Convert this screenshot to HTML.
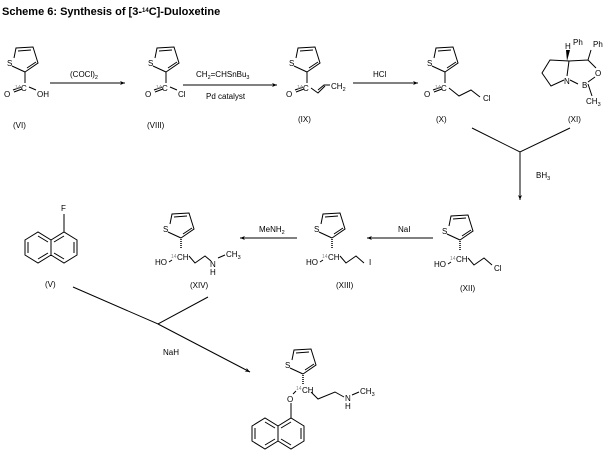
<!DOCTYPE html>
<html><head><meta charset="utf-8"><style>
html,body{margin:0;padding:0;background:#fff;}
svg{display:block;}
text{font-family:"Liberation Sans",sans-serif;font-size:8px;fill:#000;}
.t{font-weight:bold;font-size:11px;}
.s{font-size:5px;fill:#888;}
.sb{font-size:5.5px;}
</style></head><body>
<svg width="609" height="461" viewBox="0 0 609 461" xmlns="http://www.w3.org/2000/svg">
<defs>
<marker id="ah" viewBox="0 0 10 10" refX="10" refY="5" markerWidth="7" markerHeight="5" orient="auto"><path d="M0,1 L10,5 L0,9 L3,5z" fill="#000"/></marker>
<g id="th" fill="none" stroke="#000" stroke-width="1">
<path d="M0,0 L13,-9 L8,-25 L-9,-24 L-11,-14"/>
<path d="M-13,-6 L0,0"/>
<path d="M-7,-21 L6,-22 M2,-4 L11,-10"/>
</g>
<g id="naph" fill="none" stroke="#000" stroke-width="1">
<path d="M0,0 L13,-8 L26,0 L26,15 L13,23 L0,15 Z M26,0 L39,-8 L52,0 L52,15 L39,23 L26,15"/>
<path d="M3,2 L3,13 M13,-4 L23,2 M13,19 L23,13 M29,2 L39,-4 M49,2 L49,13 M29,13 L39,19"/>
</g>
</defs>
<text x="2" y="15" class="t">Scheme 6: Synthesis of [3-<tspan font-size="6" dy="-3">14</tspan><tspan dy="3">C]-Duloxetine</tspan></text>

<!-- VI -->
<use href="#th" x="25" y="72"/><text x="7" y="66" font-size="7">S</text>
<path d="M25,72 L25,83 M21,87 L13,90 M22,89 L14,92 M29,87 L36,90" stroke="#000" fill="none"/>
<text x="15" y="89" class="s">14</text><text x="21" y="91">C</text>
<text x="4" y="97">O</text><text x="37" y="97">OH</text>
<text x="13" y="128">(VI)</text>
<line x1="50" y1="83" x2="125" y2="83" stroke="#000" marker-end="url(#ah)"/>
<text x="70" y="77">(COCl)<tspan class="sb" dy="2">2</tspan></text>

<!-- VIII -->
<use href="#th" x="166" y="72"/><text x="148" y="66" font-size="7">S</text>
<path d="M166,72 L166,83 M162,87 L154,90 M163,89 L155,92 M170,87 L177,90" stroke="#000" fill="none"/>
<text x="156" y="89" class="s">14</text><text x="162" y="91">C</text>
<text x="145" y="97">O</text><text x="178" y="97">Cl</text>
<text x="147" y="128">(VIII)</text>
<line x1="183" y1="85" x2="277" y2="85" stroke="#000" marker-end="url(#ah)"/>
<text x="196" y="77">CH<tspan class="sb" dy="2">2</tspan><tspan dy="-2">=CHSnBu</tspan><tspan class="sb" dy="2">3</tspan></text>
<text x="206" y="99">Pd catalyst</text>

<!-- IX -->
<use href="#th" x="307" y="72"/><text x="289" y="66" font-size="7">S</text>
<path d="M307,72 L307,83 M303,87 L295,90 M304,89 L296,92 M311,88 L318,93 L325,86 M318,90 L324,85 L330,85" stroke="#000" fill="none"/>
<text x="297" y="89" class="s">14</text><text x="303" y="91">C</text>
<text x="286" y="97">O</text><text x="331" y="89">CH<tspan class="sb" dy="2">2</tspan></text>
<text x="298" y="122">(IX)</text>
<line x1="353" y1="83" x2="418" y2="83" stroke="#000" marker-end="url(#ah)"/>
<text x="373" y="77">HCl</text>

<!-- X -->
<use href="#th" x="445" y="72"/><text x="427" y="66" font-size="7">S</text>
<path d="M445,72 L445,83 M441,87 L433,90 M442,89 L434,92 M449,88 L459,96 L471,90 L480,97" stroke="#000" fill="none"/>
<text x="435" y="89" class="s">14</text><text x="441" y="91">C</text>
<text x="424" y="97">O</text><text x="483" y="101">Cl</text>
<text x="436" y="122">(X)</text>

<!-- XI -->
<path d="M569,61 L588,60 L596,68 M595,77 L588,82 M578,84 L570,80 M569,61 L567,76 M564,80 L551,86 L542,73 L550,60 L569,61 M588,84 L592,96 M588,60 L591,50" stroke="#000" fill="none"/>
<path d="M567,61 L566,50 L570,50 Z" fill="#000"/>
<text x="565" y="49">H</text><text x="573" y="45">Ph</text><text x="593" y="47">Ph</text>
<text x="595" y="76">O</text><text x="564" y="84">N</text><text x="582" y="88">B</text>
<text x="586" y="104">CH<tspan class="sb" dy="2">3</tspan></text>
<text x="568" y="122">(XI)</text>

<path d="M472,128 L520,152 L570,128 M520,152 L520,200" stroke="#000" fill="none" marker-end="url(#ah)"/>
<text x="536" y="178">BH<tspan class="sb" dy="2">3</tspan></text>

<!-- XII -->
<use href="#th" x="460" y="240"/><text x="442" y="234" font-size="7">S</text>
<path d="M460,241 L460,250" stroke="#000" stroke-dasharray="1,1" stroke-width="1.5"/>
<path d="M451,262 L448,264 M468,258 L474,265 L484,258 L492,265" stroke="#000" fill="none"/>
<text x="450" y="260" class="s">14</text><text x="456" y="262">CH</text>
<text x="434" y="267">HO</text><text x="494" y="271">Cl</text>
<text x="460" y="291">(XII)</text>
<line x1="433" y1="238" x2="367" y2="238" stroke="#000" marker-end="url(#ah)"/>
<text x="398" y="232">NaI</text>

<!-- XIII -->
<use href="#th" x="332" y="238"/><text x="314" y="232" font-size="7">S</text>
<path d="M332,239 L332,248" stroke="#000" stroke-dasharray="1,1" stroke-width="1.5"/>
<path d="M323,260 L320,262 M340,256 L346,263 L356,256 L364,263" stroke="#000" fill="none"/>
<text x="322" y="258" class="s">14</text><text x="328" y="260">CH</text>
<text x="306" y="265">HO</text><text x="369" y="265">I</text>
<text x="336" y="288">(XIII)</text>
<line x1="297" y1="238" x2="240" y2="238" stroke="#000" marker-end="url(#ah)"/>
<text x="259" y="232">MeNH<tspan class="sb" dy="2">2</tspan></text>

<!-- XIV -->
<use href="#th" x="181" y="238"/><text x="163" y="232" font-size="7">S</text>
<path d="M181,239 L181,248" stroke="#000" stroke-dasharray="1,1" stroke-width="1.5"/>
<path d="M172,260 L169,262 M189,256 L195,263 L205,256 L211,261 M218,258 L225,255" stroke="#000" fill="none"/>
<text x="171" y="258" class="s">14</text><text x="177" y="260">CH</text>
<text x="155" y="265">HO</text><text x="210" y="267">N</text><text x="210" y="275">H</text>
<text x="226" y="257">CH<tspan class="sb" dy="2">3</tspan></text>
<text x="190" y="288">(XIV)</text>

<!-- V -->
<use href="#naph" x="25" y="240"/>
<path d="M64,232 L64,214" stroke="#000"/>
<text x="61" y="211">F</text>
<text x="45" y="287">(V)</text>

<path d="M73,287 L158,324 L208,297" stroke="#000" fill="none"/>
<line x1="158" y1="324" x2="250" y2="372" stroke="#000" marker-end="url(#ah)"/>
<text x="163" y="355">NaH</text>

<!-- final -->
<use href="#th" x="303" y="374"/><text x="285" y="368" font-size="7">S</text>
<path d="M303,375 L303,384" stroke="#000" stroke-dasharray="1,1" stroke-width="1.5"/>
<path d="M296,391 L293,394 M311,392 L318,399 L335,392 L344,397 M352,395 L359,392 M291,403 L291,418" stroke="#000" fill="none"/>
<text x="296" y="390" class="s">14</text><text x="302" y="393">CH</text>
<text x="287" y="402">O</text><text x="345" y="401">N</text><text x="345" y="409">H</text>
<text x="360" y="394">CH<tspan class="sb" dy="2">3</tspan></text>
<use href="#naph" x="252" y="426"/>
</svg>
</body></html>
